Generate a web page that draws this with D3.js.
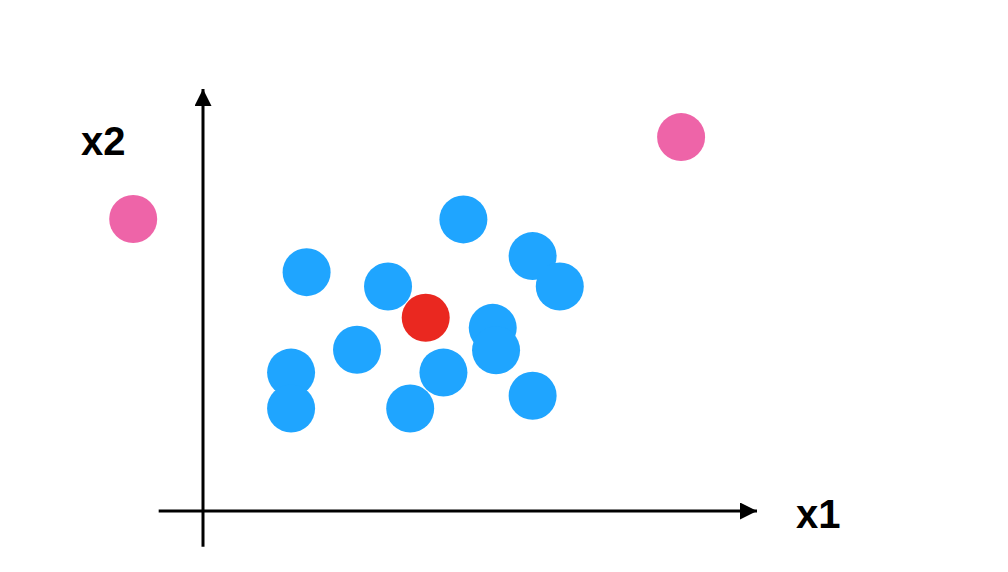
<!DOCTYPE html>
<html><head><meta charset="utf-8">
<script src="https://cdn.jsdelivr.net/npm/d3@7"></script>
<style>html,body{margin:0;padding:0;background:#fff;}svg{display:block;}</style>
</head><body>
<script>
// cluster points (x1, x2)
const blueX1 = [4.70, 1.87, 5.95, 6.44, 3.34, 5.23, 5.29, 2.78, 1.59, 4.34, 1.59, 3.74, 5.95];
const blueX2 = [6.91, 5.66, 6.04, 5.32, 5.32, 4.34, 3.81, 3.82, 3.28, 3.28, 2.43, 2.43, 2.73];
const redX1 = [4.02];
const redX2 = [4.58];
const pinkX1 = [-1.26, 8.63];
const pinkX2 = [6.92, 8.86];
const axisLabels = ["x1", "x2"];

const W = 1008, H = 572;
const svg = d3.select("body").append("svg").attr("width", W).attr("height", H);
const x = d3.scaleLinear().domain([0, 10]).range([203, 757]);
const y = d3.scaleLinear().domain([0, 10]).range([511, 89]);
const r = 24;

const defs = svg.append("defs");
defs.append("marker").attr("id", "arr").attr("viewBox", "0 0 10 10")
  .attr("refX", 10).attr("refY", 5).attr("markerWidth", 17).attr("markerHeight", 17)
  .attr("markerUnits", "userSpaceOnUse").attr("orient", "auto")
  .append("path").attr("d", "M0,0 L10,5 L0,10 Z").attr("fill", "#000");

// axes
svg.append("line").attr("x1", x(-0.8)).attr("x2", x(10)).attr("y1", y(0)).attr("y2", y(0))
  .attr("stroke", "#000").attr("stroke-width", 3).attr("marker-end", "url(#arr)");
svg.append("line").attr("x1", x(0)).attr("x2", x(0)).attr("y1", y(-0.85)).attr("y2", y(10))
  .attr("stroke", "#000").attr("stroke-width", 3).attr("marker-end", "url(#arr)");

svg.append("text").attr("x", 796).attr("y", 528).text(axisLabels[0])
  .attr("font-family", "Liberation Sans, Arial, sans-serif").attr("font-weight", "bold").attr("font-size", 40);
svg.append("text").attr("x", 81).attr("y", 155).text(axisLabels[1])
  .attr("font-family", "Liberation Sans, Arial, sans-serif").attr("font-weight", "bold").attr("font-size", 40);

function draw(xs, ys, color) {
  svg.append("g").selectAll("circle").data(xs.map((v, i) => [v, ys[i]])).join("circle")
    .attr("cx", d => x(d[0])).attr("cy", d => y(d[1])).attr("r", r).attr("fill", color);
}
draw(blueX1, blueX2, "#1fa5ff");
draw(redX1, redX2, "#ea2820");
draw(pinkX1, pinkX2, "#ee64a8");
</script>
</body></html>
